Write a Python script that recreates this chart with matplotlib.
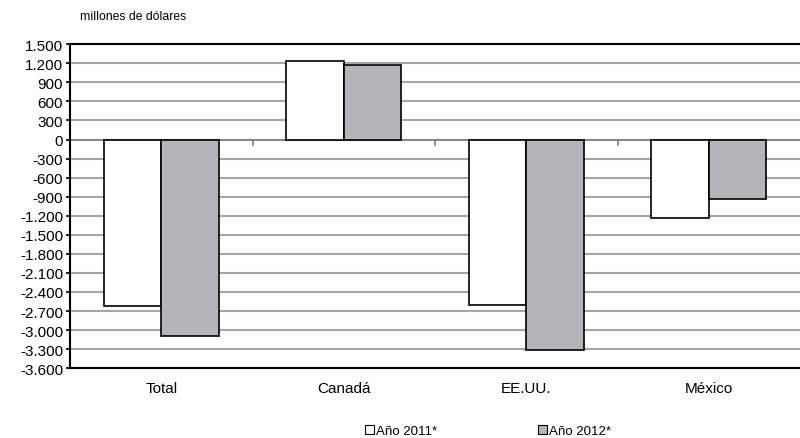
import matplotlib.pyplot as plt
import numpy as np
from matplotlib.ticker import FuncFormatter

plt.rcParams['font.family'] = ['Liberation Sans', 'DejaVu Sans']

categorias = ["Total", "Canadá", "EE.UU.", "México"]
anio_2011 = [-2620, 1230, -2600, -1230]
anio_2012 = [-3100, 1180, -3320, -940]
series = ["Año 2011*", "Año 2012*"]

fig = plt.figure(figsize=(8, 4.39), dpi=100)
ax = fig.add_axes([0.0875, 0.159, 0.9125, 0.738])

x = np.arange(len(categorias))
w = 0.315
ax.bar(x - w / 2, anio_2011, w, color="white", edgecolor="black", linewidth=1.2,
       label=series[0], zorder=3)
ax.bar(x + w / 2, anio_2012, w, color="#b4b5b9", edgecolor="black", linewidth=1.2,
       label=series[1], zorder=3)

ax.set_ylim(-3600, 1500)
ax.set_xlim(-0.5, len(categorias) - 0.5)
ax.set_yticks(np.arange(-3600, 1501, 300))
ax.yaxis.set_major_formatter(FuncFormatter(lambda v, p: f"{int(v):,}".replace(",", ".")))
ax.grid(axis="y", color="#a6a6a6", linewidth=1.5, zorder=0)
ax.tick_params(axis="y", length=3, width=1.2, labelsize=11, pad=2)

# categorías como texto bajo el gráfico, separadores en la línea del cero
ax.set_xticks([])
for i in range(len(categorias) - 1):
    ax.plot([i + 0.5, i + 0.5], [0, -90], color="#808080", linewidth=1.2, zorder=2)
ax.axhline(0, color="#808080", linewidth=1.2, zorder=2)
for i, c in enumerate(categorias):
    ax.text(i, -3800, c, ha="center", va="top", fontsize=11)

ax.spines["right"].set_visible(False)
for s in ["left", "top", "bottom"]:
    ax.spines[s].set_linewidth(1.5)

fig.text(0.1, 0.962, "millones de dólares", fontsize=8.8, ha="left", va="center")

leg = fig.legend(loc="lower center", bbox_to_anchor=(0.610, -0.025), ncol=2,
                 frameon=False, fontsize=9.5, handlelength=0.7, handleheight=0.7,
                 handletextpad=0.15, columnspacing=7.6)
for h in leg.legend_handles:
    h.set_linewidth(0.8)

fig.savefig("out.png", dpi=100)
